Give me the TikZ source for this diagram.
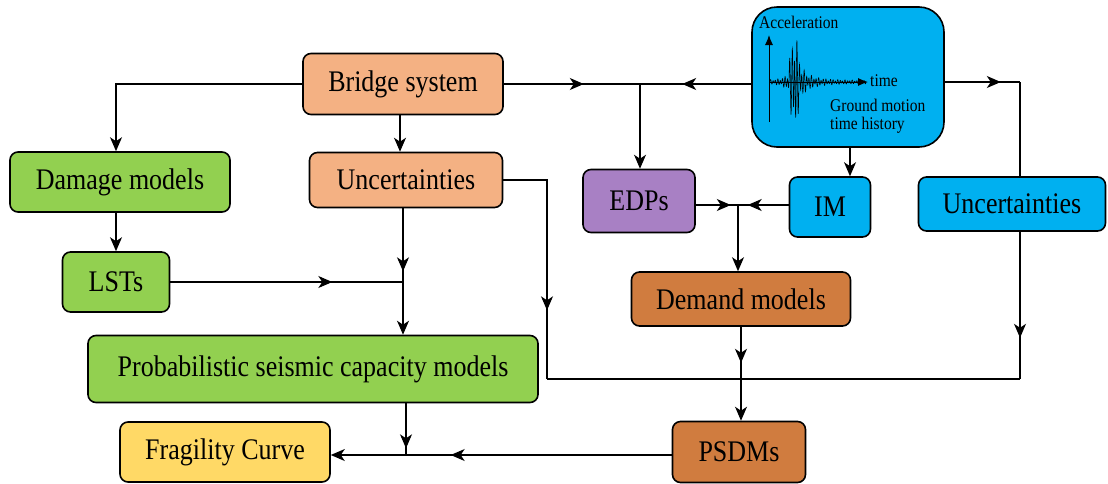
\documentclass[tikz,border=0pt]{standalone}
\usepackage{fontspec}
\usepackage{graphicx}
\setmainfont{Liberation Serif}
\usetikzlibrary{arrows.meta,decorations.markings}
\definecolor{cOrange}{HTML}{F4B183}
\definecolor{cGreen}{HTML}{92D050}
\definecolor{cYellow}{HTML}{FFD966}
\definecolor{cBrown}{HTML}{D07C3F}
\definecolor{cPurple}{HTML}{A880C4}
\definecolor{cBlue}{HTML}{00B0F0}
\newcommand{\tallt}[1]{\scalebox{1}[1.15]{#1}}
\begin{document}
\begin{tikzpicture}[x=1pt,y=-1pt,
  box/.style={draw=black, line width=1.6pt, rounded corners=8pt, font=\fontsize{26}{30}\selectfont, inner sep=0pt, align=center},
  conn/.style={line width=1.1pt},
  tip/.style={-{Stealth[length=14pt,width=12pt,inset=4pt]}},
  mid/.style={postaction={decorate}, decoration={markings, mark=at position #1 with {\arrow{Stealth[length=14pt,width=12pt,inset=4pt]}}}},
  small/.style={font=\fontsize{15.5}{18}\selectfont, inner sep=0pt}]
\useasboundingbox (0,0) rectangle (1108,483);

% nodes
\node[box, fill=cOrange, minimum width=200pt, minimum height=61pt] (bridge) at (403,84) {\tallt{Bridge system}};
\node[box, fill=cGreen, minimum width=220pt, minimum height=60pt] (damage) at (120,182) {\tallt{Damage models}};
\node[box, fill=cOrange, minimum width=193pt, minimum height=55pt] (unc1) at (406,180) {\tallt{Uncertainties}};
\node[box, fill=cGreen, minimum width=107pt, minimum height=60pt] (lst) at (116,282) {\tallt{LSTs}};
\node[box, fill=cGreen, minimum width=450pt, minimum height=67pt] (pscm) at (313,369) {\tallt{Probabilistic seismic capacity models}};
\node[box, fill=cYellow, minimum width=210pt, minimum height=60pt] (frag) at (225,452) {\tallt{Fragility Curve}};
\node[box, fill=cBrown, minimum width=133pt, minimum height=61pt] (psdm) at (739,452) {\tallt{PSDMs}};
\node[box, fill=cBrown, minimum width=219pt, minimum height=54pt] (demand) at (741,299) {\tallt{Demand models}};
\node[box, fill=cPurple, minimum width=112pt, minimum height=63pt] (edp) at (639,201) {\tallt{EDPs}};
\node[box, fill=cBlue, minimum width=81pt, minimum height=60pt] (im) at (830,207) {\tallt{IM}};
\node[box, fill=cBlue, minimum width=187pt, minimum height=54pt] (unc2) at (1012,204) {\tallt{Uncertainties}};
\node[box, fill=cBlue, rounded corners=25pt, minimum width=192pt, minimum height=140pt] (gm) at (848,77) {};

% ground motion content
\draw[line width=0.55pt] plot[domain=0:96, samples=600]
  ({770+\x}, {82 - (1.5 + 42/(1+((\x-25)/3.2)^2) + 9*exp(-(\x-25)/15)*(\x>19))*(0.75*sin(150*\x)+0.35*sin(97*\x+30))});
\draw[line width=1pt, -{Latex[length=10pt,width=8pt]}] (769,122) -- (769,35);
\draw[line width=1pt, -{Latex[length=10pt,width=8pt]}] (769,82) -- (868,82);
\node[small, anchor=west] (acc) at (759,22) {\tallt{Acceleration}};
\node[small, anchor=west] (tm) at (870,81) {\tallt{time}};
\node[small, anchor=north west, align=left] (gmt) at (830,99) {\tallt{Ground motion}\\\tallt{time history}};

% junction coordinates
\coordinate (j1) at (403,283);
\coordinate (c1) at (547,379);
\coordinate (c2) at (1020,379);
\coordinate (j2) at (640,84);
\coordinate (j3) at (1020,82);
\coordinate (j4) at (738,205);
\coordinate (j5) at (406,455);

% connectors
\draw[conn, tip] (bridge.west) -| ([xshift=-4pt]damage.north);
\draw[conn, tip] ([xshift=-3pt]bridge.south) -- ([xshift=-3pt]bridge.south |- unc1.north);
\draw[conn, tip] ([xshift=-4pt]damage.south) -- ([xshift=-4pt]damage.south |- lst.north);
\draw[conn, tip, mid=63pt] ([xshift=-3pt]unc1.south) -- ([xshift=-3pt]unc1.south |- pscm.north);
\draw[conn, mid=162pt] (lst.east) -- (lst.east -| j1);
\draw[conn, mid=174pt] (unc1.east) -| (c1);
\draw[conn] (c1) -- (c2);
\draw[conn, mid=106pt] (unc2.south -| c2) -- (c2);
\draw[conn, mid=80pt] (bridge.east) -- (j2);
\draw[conn, mid=69pt] (gm.west |- j2) -- (j2);
\draw[conn, tip] (j2) -- (j2 |- edp.north);
\draw[conn, mid=56pt] (gm.east |- j3) -- (j3);
\draw[conn] (j3) -- (j3 |- unc2.north);
\draw[conn, tip] ([xshift=2pt]gm.south) -- ([xshift=2pt]gm.south |- im.north);
\draw[conn, mid=35pt] (edp.east |- j4) -- (j4);
\draw[conn, mid=41pt] (im.west |- j4) -- (j4);
\draw[conn, tip] (j4) -- (j4 |- demand.north);
\draw[conn, tip, mid=36pt] (demand.south) -- (demand.south |- psdm.north);
\draw[conn, mid=45pt] (pscm.south -| j5) -- (j5);
\draw[conn, tip, mid=221pt] (psdm.west |- j5) -- (frag.east |- j5);
\end{tikzpicture}
\end{document}
